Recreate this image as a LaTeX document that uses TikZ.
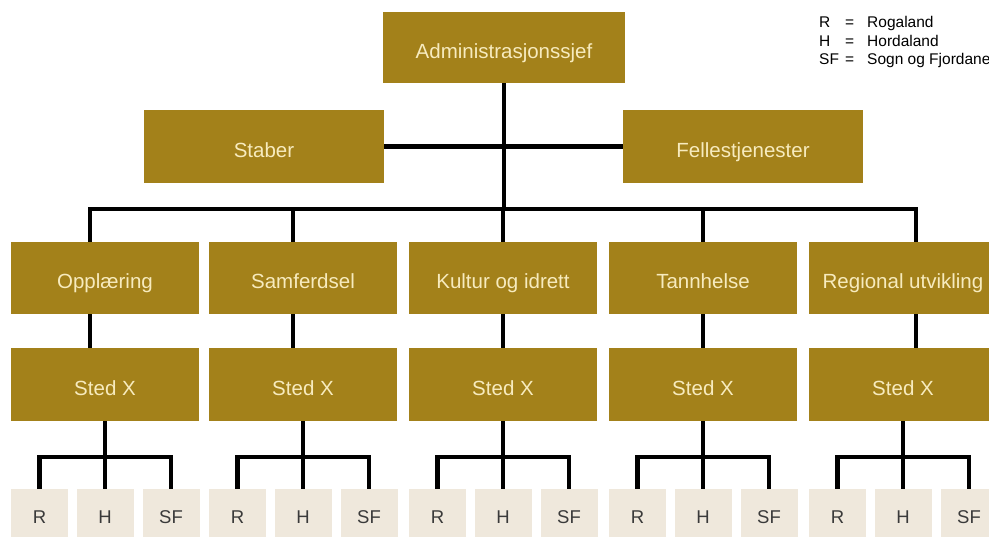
\documentclass[tikz,border=0pt]{standalone}
\usepackage{fontspec}
\setmainfont{Liberation Sans}
\definecolor{gold}{HTML}{A3811A}
\definecolor{cream}{HTML}{F7EBBE}
\definecolor{beige}{HTML}{EFE8DC}
\definecolor{leaftext}{HTML}{3A3A3A}
\begin{document}
\begin{tikzpicture}[x=1pt,y=-1pt,
  box/.style={fill=gold, text=cream, inner sep=0pt, minimum width=188pt, minimum height=72pt,
    text height=22pt, text depth=0pt, font=\fontsize{20.5}{24}\selectfont},
  leaf/.style={fill=beige, text=leaftext, inner sep=0pt, minimum width=57pt, minimum height=56pt,
    text height=12.6pt, text depth=0pt, font=\fontsize{18.5}{22}\selectfont},
  legend/.style={anchor=base west, inner sep=0pt, text=black, font=\fontsize{15.5}{18}\selectfont},
  conn/.style={line width=4.5pt, black}]
\useasboundingbox (0,0) rectangle (989,537);
\clip (0,0) rectangle (989,537);
\fill[white] (0,0) rectangle (989,537);

% top level
\node[box, minimum width=242pt, minimum height=71pt] (admin) at (504,47.5) {Administrasjonssjef};
\node[box, minimum width=240pt, minimum height=73pt] (staber) at (264,146.5) {Staber};
\node[box, minimum width=240pt, minimum height=73pt] (felles) at (743,146.5) {Fellestjenester};

% legend
\node[legend] (lgR) at (819,28) {R};
\node[legend] (lgRe) at (845,28) {=};
\node[legend] (lgRn) at (867,28) {Rogaland};
\node[legend] (lgH) at (819,46.5) {H};
\node[legend] (lgHe) at (845,46.5) {=};
\node[legend] (lgHn) at (867,46.5) {Hordaland};
\node[legend] (lgS) at (819,65) {SF};
\node[legend] (lgSe) at (845,65) {=};
\node[legend] (lgSn) at (867,65) {Sogn og Fjordane};

% departments
\foreach \i/\x/\t/\lbl in {1/105/90/Opplæring, 2/303/293/Samferdsel, 3/503/503/Kultur og idrett, 4/703/703/Tannhelse, 5/903/916/Regional utvikling} {
  \node[box] (l\i) at (\x,278) {\lbl};
  \node[box, minimum height=73pt] (s\i) at (\x,384.5) {Sted X};
  \node[leaf] (r\i) at (\x-65.5,517) {R};
  \node[leaf] (h\i) at (\x,517) {H};
  \node[leaf] (f\i) at (\x+66,517) {SF};
  \coordinate (tap\i) at (\t,209);
  \coordinate (br\i) at (\x,457);
}

% connectors
\draw[conn] (admin.south) -- (admin.south |- tap3);
\draw[conn] (staber.east) -- (felles.west);
\draw[conn] (l1.north -| tap1) -- (tap1) -- (tap5) -- (l5.north -| tap5);
\foreach \i in {2,3,4} {
  \draw[conn] (tap\i) -- (l\i.north -| tap\i);
}
\foreach \i in {1,...,5} {
  \draw[conn] (l\i.south -| tap\i) -- (s\i.north -| tap\i);
  \draw[conn] (s\i.south) -- (h\i.north);
  \draw[conn] (r\i.north) -- (r\i.north |- br\i) -- (f\i.north |- br\i) -- (f\i.north);
}
\end{tikzpicture}
\end{document}
